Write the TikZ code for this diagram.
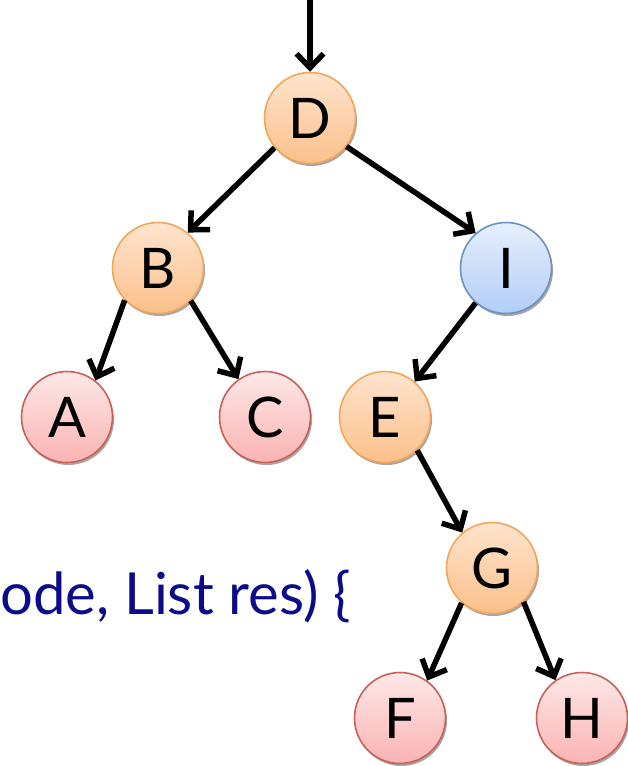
\documentclass[tikz,border=0pt]{standalone}
\usepackage{fontspec}
\setmainfont{Lato}
\usetikzlibrary{arrows.meta,shadows}
\definecolor{orbd}{HTML}{F2A65A}
\definecolor{ortop}{HTML}{FEE4CE}
\definecolor{orbot}{HTML}{FCC08A}
\definecolor{rdbd}{HTML}{C8605A}
\definecolor{rdtop}{HTML}{FEE8E8}
\definecolor{rdbot}{HTML}{FBB3B3}
\definecolor{blbd}{HTML}{6A92C4}
\definecolor{bltop}{HTML}{E6EFFD}
\definecolor{blbot}{HTML}{B3CDF7}
\definecolor{codeblue}{HTML}{0C0C8A}
\begin{document}
\begin{tikzpicture}[x=1pt,y=-1pt,
  tn/.style={circle, minimum size=91pt, inner sep=0pt, line width=1.6pt,
    font=\fontsize{56}{56}\selectfont,
    drop shadow={shadow xshift=1.5pt, shadow yshift=-2.5pt, fill=black, opacity=0.35}},
  orn/.style={tn, draw=orbd, top color=ortop, bottom color=orbot},
  rdn/.style={tn, draw=rdbd, top color=rdtop, bottom color=rdbot},
  bln/.style={tn, draw=blbd, top color=bltop, bottom color=blbot},
  arr/.style={line width=5.5pt, -{Straight Barb[length=14pt,width=27pt,line width=5.5pt]}}
]
\useasboundingbox (0,0) rectangle (627,766);
\node[orn] (D) at (310,118) {D};
\node[orn] (B) at (158,268) {B};
\node[bln] (I) at (506,268) {I};
\node[rdn] (A) at (67,417) {A};
\node[rdn] (C) at (265,417) {C};
\node[orn] (E) at (385,417) {E};
\node[orn] (G) at (492,568) {G};
\node[rdn] (F) at (400,718) {F};
\node[rdn] (H) at (582,718) {H};
\coordinate (top) at (310,0);
\draw[arr] (top) -- (D.north);
\draw[arr] (D.220) -- (B.50);
\draw[arr] (D.322) -- (I.131);
\draw[arr] (B.224) -- (A.52);
\draw[arr] (B.315) -- (C.125);
\draw[arr] (I.229) -- (E.50);
\draw[arr] (E.314) -- (G.130);
\draw[arr] (G.229) -- (F.54);
\draw[arr] (G.313) -- (H.125);
\node[anchor=base west, inner sep=0pt, text=codeblue, font=\fontsize{58}{58}\selectfont] (code) at (0,614) {ode, List res) \{};
\end{tikzpicture}
\end{document}
